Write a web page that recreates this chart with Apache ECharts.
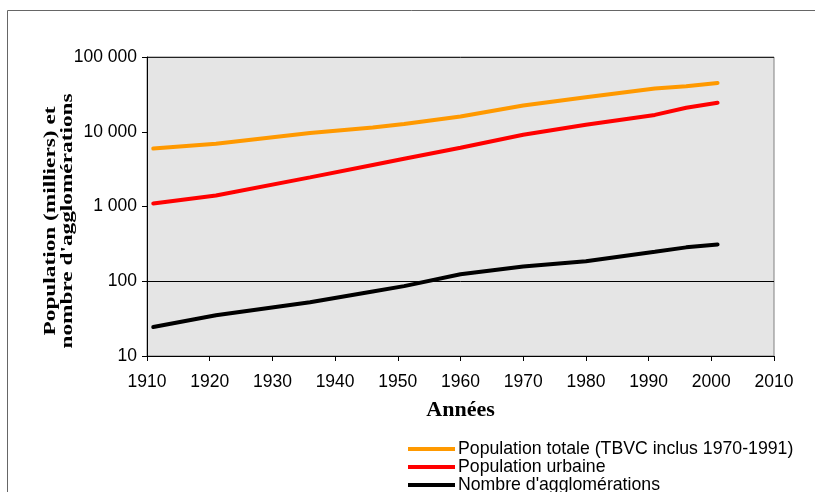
<!DOCTYPE html>
<html><head><meta charset="utf-8">
<script src="https://cdn.jsdelivr.net/npm/echarts@6/dist/echarts.min.js"></script>
<style>html,body{margin:0;padding:0;background:#fff}#c{width:815px;height:492px}</style>
</head><body><div id="c"></div>
<script>
const years = [1911, 1921, 1936, 1946, 1951, 1960, 1970, 1980, 1991, 1996, 2001];
const popTotale = [5970, 6930, 9590, 11400, 12670, 16000, 22500, 29000, 38000, 40600, 44800];
const popUrbaine = [1100, 1400, 2450, 3600, 4350, 6120, 9120, 12400, 16800, 20900, 24400];
const nbAgglo = [24.4, 35, 52.5, 73, 86, 124, 158, 185, 248, 284, 311];
const seriesNames = ["Population totale (TBVC inclus 1970-1991)", "Population urbaine", "Nombre d'agglomérations"];
const yTicks = [10, 100, 1000, 10000, 100000];
const xMin = 1910, xMax = 2010, xStep = 10;
const yTitle = "Population (milliers) et\nnombre d'agglomérations";
const xTitle = "Années";

function fmt(v){ return String(Math.round(v)).replace(/\B(?=(\d{3})+(?!\d))/g, ' '); }
function pairs(vals){ return years.map((y,i)=>[y, vals[i]]); }

const chart = echarts.init(document.getElementById('c'), null, {renderer:'canvas'});
const colors = ['#FF9900', '#FF0000', '#000000'];
chart.setOption({
  animation:false,
  backgroundColor:'#fff',
  grid:{left:147, right:41, top:57, bottom:136, show:true, backgroundColor:'#e5e5e5', borderColor:'#808080', borderWidth:1},
  xAxis:{type:'value', min:xMin, max:xMax, interval:xStep,
    axisLine:{show:true, lineStyle:{color:'#000', width:1}},
    axisTick:{show:true, length:5, lineStyle:{color:'#000'}},
    axisLabel:{color:'#000', fontFamily:'Liberation Sans', fontSize:17.5, margin:17, formatter:v=>String(v)},
    splitLine:{show:false},
    name:xTitle, nameLocation:'middle', nameGap:43,
    nameTextStyle:{fontFamily:'Liberation Serif', fontWeight:'bold', fontSize:22, color:'#000'}
  },
  yAxis:{type:'log', logBase:10, min:yTicks[0], max:yTicks[yTicks.length-1],
    axisLine:{show:true, lineStyle:{color:'#000', width:1}},
    axisTick:{show:true, length:5, lineStyle:{color:'#000'}},
    axisLabel:{color:'#000', fontFamily:'Liberation Sans', fontSize:17.5, margin:10, formatter:v=>fmt(v)},
    splitLine:{show:false}
  },
  legend:{orient:'vertical', left:408, top:440, height:80, itemWidth:47, itemHeight:4, itemGap:0, icon:'rect', padding:0,
    textStyle:{fontFamily:'Liberation Sans', fontSize:17.7, color:'#000', lineHeight:16.5, padding:[0,0,0,-2]},
    data:seriesNames},
  series:[
    {name:seriesNames[0], type:'line', data:pairs(popTotale), symbol:'none', color:colors[0], lineStyle:{width:4, color:colors[0], cap:'round'}},
    {name:seriesNames[1], type:'line', data:pairs(popUrbaine), symbol:'none', color:colors[1], lineStyle:{width:4, color:colors[1], cap:'round'}},
    {name:seriesNames[2], type:'line', data:pairs(nbAgglo), symbol:'none', color:colors[2], lineStyle:{width:4, color:colors[2], cap:'round'}, z:1,
      markLine:{silent:true, symbol:'none', label:{show:false}, lineStyle:{color:'#000', width:1, type:'solid'}, data:[{yAxis:100}]}}
  ],
  graphic:[
    {type:'polyline', shape:{points:[[7.5,492],[7.5,10.5],[815,10.5]]}, style:{stroke:'#666', lineWidth:1, fill:null}},
    {type:'line', shape:{x1:147, y1:57.5, x2:774, y2:57.5}, style:{stroke:'#222', lineWidth:1}},
    {type:'text', x:59, y:221, rotation:Math.PI/2, scaleX:1.37, scaleY:1,
      style:{text:yTitle, fontFamily:'Liberation Serif', fontWeight:'bold', fontSize:17, lineHeight:17,
        fill:'#000', textAlign:'center', textVerticalAlign:'middle', align:'center', verticalAlign:'middle'}}
  ]
});
</script></body></html>
